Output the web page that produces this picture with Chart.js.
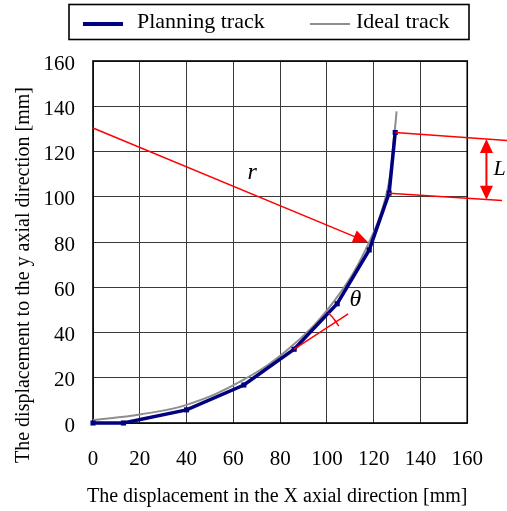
<!DOCTYPE html>
<html>
<head>
<meta charset="utf-8">
<script src="https://cdn.jsdelivr.net/npm/chart.js@4/dist/chart.umd.min.js"></script>
<style>
  html, body { margin: 0; padding: 0; background: #ffffff; }
  canvas { display: block; }
</style>
</head>
<body>
<canvas id="chart" width="507" height="511"></canvas>
<script>
// Series: planned polyline (with waypoints) and the ideal arc
const planningX = [0, 13, 40, 64.5, 86, 104.4, 118.1, 126.6, 129.2];
const planningY = [0, 0, 5.8, 16.8, 32.6, 52.7, 76.5, 101.6, 128.4];
const idealX = [0, 20, 40, 64, 84.9, 103.0, 116.8, 125.6, 128.9, 129.8];
const idealY = [1.3, 3.8, 8.0, 18.9, 33.9, 53.8, 77.2, 101.8, 128.4, 137.7];

const seriesNames = ['Planning track', 'Ideal track'];
const xTickValues = [0, 20, 40, 60, 80, 100, 120, 140, 160];
const yTickValues = [0, 20, 40, 60, 80, 100, 120, 140, 160];
const xAxisTitle = 'The displacement in the X axial direction [mm]';
const yAxisTitle = 'The displacement to the y axial direction [mm]';

// Annotation geometry, in data units
const radiusStart = [0, 130.4];
const radiusEnd = [117.6, 79.9];
const tangentStart = [86, 32.6];
const tangentEnd = [109.1, 48.2];
const chordTop = [[129.2, 128.4], [178, 124.8]];
const chordBottom = [[126.6, 101.6], [174.9, 98.3]];
const spanX = 168.2;
const spanTop = 125.5;
const spanBottom = 98.7;
const labelR = [68, 110.5];
const labelTheta = [112.2, 54.4];
const labelL = [171.2, 112.0];

const SERIF = "'Liberation Serif', 'Times New Roman', serif";
const RED = '#ff0000';
const NAVY = '#000080';
const GREY = '#8e8e8e';

Chart.defaults.font.family = SERIF;
Chart.defaults.color = '#000000';

function toPts(xs, ys) { return xs.map((x, i) => ({ x: x, y: ys[i] })); }

function arrowHead(ctx, tx, ty, fx, fy, len, half) {
  const a = Math.atan2(ty - fy, tx - fx);
  ctx.beginPath();
  ctx.moveTo(tx, ty);
  ctx.lineTo(tx - len * Math.cos(a) + half * Math.sin(a), ty - len * Math.sin(a) - half * Math.cos(a));
  ctx.lineTo(tx - len * Math.cos(a) - half * Math.sin(a), ty - len * Math.sin(a) + half * Math.cos(a));
  ctx.closePath();
  ctx.fill();
}

const framePlugin = {
  id: 'frame',
  beforeDatasetsDraw(chart) {
    const { ctx, chartArea: a } = chart;
    ctx.save();
    ctx.strokeStyle = '#000000';
    ctx.lineWidth = 1.6;
    ctx.strokeRect(a.left, a.top, a.right - a.left, a.bottom - a.top);
    ctx.restore();
  }
};

const decorPlugin = {
  id: 'decor',
  afterDraw(chart) {
    const { ctx } = chart;
    const xs = chart.scales.x, ys = chart.scales.y;
    const px = v => xs.getPixelForValue(v);
    const py = v => ys.getPixelForValue(v);
    ctx.save();

    // radius arrow
    ctx.strokeStyle = RED; ctx.fillStyle = RED; ctx.lineWidth = 1.5;
    const r0x = px(radiusStart[0]), r0y = py(radiusStart[1]);
    const r1x = px(radiusEnd[0]), r1y = py(radiusEnd[1]);
    const ra = Math.atan2(r1y - r0y, r1x - r0x);
    ctx.beginPath(); ctx.moveTo(r0x, r0y);
    ctx.lineTo(r1x - 12 * Math.cos(ra), r1y - 12 * Math.sin(ra)); ctx.stroke();
    arrowHead(ctx, r1x, r1y, r0x, r0y, 15, 6.5);

    // tangent extension and angle arc
    const t0x = px(tangentStart[0]), t0y = py(tangentStart[1]);
    const t1x = px(tangentEnd[0]), t1y = py(tangentEnd[1]);
    ctx.beginPath(); ctx.moveTo(t0x, t0y); ctx.lineTo(t1x, t1y); ctx.stroke();
    const segA = Math.atan2(py(planningY[5]) - t0y, px(planningX[5]) - t0x);
    const tanA = Math.atan2(t1y - t0y, t1x - t0x);
    ctx.beginPath(); ctx.arc(t0x, t0y, 50, segA, tanA); ctx.stroke();
    const tx = t0x + 50 * Math.cos(tanA), ty = t0y + 50 * Math.sin(tanA);
    ctx.beginPath();
    ctx.moveTo(tx - 2 * Math.cos(tanA + Math.PI / 2), ty - 2 * Math.sin(tanA + Math.PI / 2));
    ctx.lineTo(tx + 5 * Math.cos(tanA + Math.PI / 2), ty + 5 * Math.sin(tanA + Math.PI / 2));
    ctx.stroke();

    // step length L
    ctx.lineWidth = 1.5;
    [chordTop, chordBottom].forEach(seg => {
      ctx.beginPath();
      ctx.moveTo(px(seg[0][0]), py(seg[0][1]));
      ctx.lineTo(px(seg[1][0]), py(seg[1][1]));
      ctx.stroke();
    });
    const sx = px(spanX), sTop = py(spanTop), sBot = py(spanBottom);
    ctx.lineWidth = 2;
    ctx.beginPath(); ctx.moveTo(sx, sTop + 12); ctx.lineTo(sx, sBot - 12); ctx.stroke();
    arrowHead(ctx, sx, sTop, sx, sBot, 14, 6.5);
    arrowHead(ctx, sx, sBot, sx, sTop, 14, 6.5);

    // symbols
    ctx.fillStyle = '#000000';
    ctx.font = 'italic 24px ' + SERIF;
    ctx.textAlign = 'center'; ctx.textBaseline = 'middle';
    ctx.fillText('r', px(labelR[0]), py(labelR[1]));
    ctx.fillText('\u03B8', px(labelTheta[0]), py(labelTheta[1]));
    ctx.textAlign = 'left';
    ctx.font = 'italic 22px ' + SERIF;
    ctx.fillText('L', px(labelL[0]), py(labelL[1]));

    // axis titles
    ctx.font = '20px ' + SERIF;
    ctx.textAlign = 'left'; ctx.textBaseline = 'alphabetic';
    ctx.fillText(xAxisTitle, 87, 502);
    ctx.save();
    ctx.translate(28.5, 463);
    ctx.rotate(-Math.PI / 2);
    ctx.fillText(yAxisTitle, 0, 0);
    ctx.restore();

    // legend
    ctx.strokeStyle = '#000000'; ctx.lineWidth = 1.6;
    ctx.strokeRect(69, 4.5, 400, 35);
    ctx.lineWidth = 4; ctx.strokeStyle = NAVY;
    ctx.beginPath(); ctx.moveTo(83, 24); ctx.lineTo(123, 24); ctx.stroke();
    ctx.lineWidth = 2; ctx.strokeStyle = GREY;
    ctx.beginPath(); ctx.moveTo(310, 24); ctx.lineTo(350, 24); ctx.stroke();
    ctx.font = '22px ' + SERIF;
    ctx.fillStyle = '#000000';
    ctx.fillText(seriesNames[0], 137, 28);
    ctx.fillText(seriesNames[1], 356, 28);
    ctx.restore();
  }
};

new Chart(document.getElementById('chart'), {
  type: 'line',
  data: {
    datasets: [
      {
        label: seriesNames[0],
        data: toPts(planningX, planningY),
        borderColor: NAVY,
        backgroundColor: NAVY,
        borderWidth: 3.5,
        tension: 0,
        pointStyle: 'rect',
        pointRadius: 3.6,
        pointBorderWidth: 0,
        pointBackgroundColor: NAVY,
        order: 0
      },
      {
        label: seriesNames[1],
        data: toPts(idealX, idealY),
        borderColor: GREY,
        borderWidth: 2,
        pointRadius: 0,
        tension: 0.4,
        order: 1
      }
    ]
  },
  options: {
    responsive: false,
    animation: false,
    clip: false,
    layout: { padding: { left: 0, top: 61, right: 39, bottom: 0 } },
    plugins: { legend: { display: false }, tooltip: { enabled: false } },
    scales: {
      x: {
        type: 'linear', min: 0, max: 160,
        afterBuildTicks: s => { s.ticks = xTickValues.map(v => ({ value: v })); },
        afterFit: s => { s.height = 88; },
        grid: { color: '#3a3a3a', lineWidth: 1, drawTicks: false },
        border: { display: false },
        ticks: { font: { size: 21, family: SERIF }, color: '#000', padding: 24, maxRotation: 0 }
      },
      y: {
        type: 'linear', min: 0, max: 160,
        afterBuildTicks: s => { s.ticks = yTickValues.map(v => ({ value: v })); },
        afterFit: s => { s.width = 93; },
        grid: { color: '#3a3a3a', lineWidth: 1, drawTicks: false },
        border: { display: false },
        ticks: { font: { size: 21, family: SERIF }, color: '#000', padding: 18, labelOffset: 3 }
      }
    }
  },
  plugins: [framePlugin, decorPlugin]
});
</script>
</body>
</html>
